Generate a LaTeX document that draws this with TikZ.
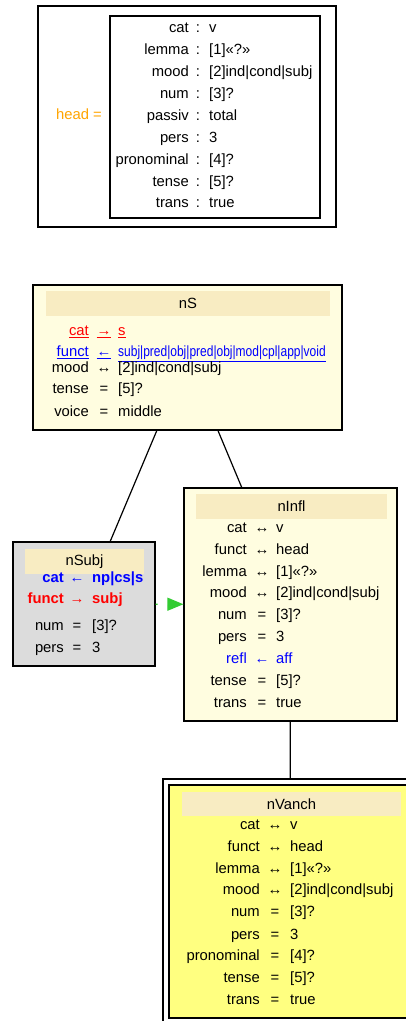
\documentclass[tikz,border=0pt]{standalone}
\usepackage{fontspec}
\setmainfont{Liberation Sans}
\usetikzlibrary{arrows.meta}
\definecolor{cream}{HTML}{FFFDE0}
\definecolor{titlebar}{HTML}{F8ECC2}
\definecolor{greybox}{HTML}{DCDCDC}
\definecolor{vanchyellow}{HTML}{FFFF80}
\definecolor{headorange}{HTML}{FFA500}
\definecolor{linkgreen}{HTML}{33CC33}
\tikzset{
  fbox/.style={draw, line width=1.2pt, inner sep=0pt},
  titlebox/.style={fill=titlebar, inner sep=0pt},
  lbl/.style={anchor=mid east, inner sep=0pt, yshift=-2pt},
  sym/.style={anchor=mid, inner sep=0pt, yshift=-2pt},
  val/.style={anchor=mid west, inner sep=0pt, yshift=-2pt},
  edge/.style={line width=1.2pt}
}
\begin{document}
\begin{tikzpicture}[x=1pt, y=-1pt, font=\fontsize{14.8}{17}\selectfont]
\useasboundingbox[fill=white] (0,0) rectangle (406,1021);
\clip (0,0) rectangle (406,1021);

%head
\node[fbox, minimum width=298, minimum height=221](head_outer) at (187,116.5){};
\node[fbox, minimum width=210, minimum height=202](head_avm) at (215,117){};
\node[text=headorange, anchor=mid, inner sep=0pt, yshift=-2pt](head_lbl) at (79,115){head =};
\foreach \y/\l/\v in {28/cat/v, 50/lemma/[1]«?», 72/mood/[2]ind|cond|subj,
    94/num/[3]?, 116/passiv/total, 138/pers/3, 160/pronominal/[4]?,
    182/tense/[5]?, 203/trans/true}{
  \node[lbl](head_l\y) at (189,\y){\l};
  \node[sym](head_s\y) at (198,\y){:};
  \node[val](head_v\y) at (209,\y){\v};
}

%nS
\node[fbox, fill=cream, minimum width=309, minimum height=145](nS) at (187.5,357.5){};
\node[titlebox, minimum width=284, minimum height=25](nS_title) at (188,303.5){nS};
\foreach \y/\l/\s/\v/\c in {331/\underline{cat}/\underline{→}/\underline{s}/red,
    352/\underline{funct}/\underline{←}/\underline{\scalebox{0.81}[1]{subj|pred|obj|pred|obj|mod|cpl|app|void}}/blue,
    368/mood/↔/[2]ind|cond|subj/black, 389/tense/=/[5]?/black,
    412/voice/=/middle/black}{
  \node[lbl, text=\c](nS_l\y) at (89,\y){\l};
  \node[sym, text=\c](nS_s\y) at (104,\y){\s};
  \node[val, text=\c](nS_v\y) at (118,\y){\v};
}

%nSubj
\node[fbox, fill=greybox, minimum width=142, minimum height=124](nSubj) at (84,604){};
\node[titlebox, minimum width=119, minimum height=25](nSubj_title) at (84.5,561.5){nSubj};
\foreach \y/\l/\s/\v/\c in {578/\textbf{cat}/←/\textbf{np|cs|s}/blue,
    599/\textbf{funct}/→/\textbf{subj}/red,
    626/num/=/[3]?/black, 648/pers/=/3/black}{
  \node[lbl, text=\c](nSubj_l\y) at (64,\y){\l};
  \node[sym, text=\c](nSubj_s\y) at (77,\y){\s};
  \node[val, text=\c](nSubj_v\y) at (92,\y){\v};
}

%nInfl
\node[fbox, fill=cream, minimum width=213, minimum height=233](nInfl) at (290.5,604.5){};
\node[titlebox, minimum width=191, minimum height=25](nInfl_title) at (291.5,506.5){nInfl};
\foreach \y/\l/\s/\v/\c in {528/cat/↔/v/black, 550/funct/↔/head/black,
    572/lemma/↔/[1]«?»/black, 593/mood/↔/[2]ind|cond|subj/black,
    615/num/=/[3]?/black, 637/pers/=/3/black, 659/refl/←/aff/blue,
    681/tense/=/[5]?/black, 703/trans/=/true/black}{
  \node[lbl, text=\c](nInfl_l\y) at (247,\y){\l};
  \node[sym, text=\c](nInfl_s\y) at (262,\y){\s};
  \node[val, text=\c](nInfl_v\y) at (276,\y){\v};
}

%nVanch
\node[fbox, fill=white, minimum width=254, minimum height=245](nVanch) at (290,901.5){};
\node[fbox, fill=vanchyellow, minimum width=242, minimum height=233](nVanch_in) at (290,901.5){};
\node[titlebox, minimum width=219, minimum height=24](nVanch_title) at (291.5,804){nVanch};
\foreach \y/\l/\s/\v in {825/cat/↔/v, 847/funct/↔/head, 869/lemma/↔/[1]«?»,
    890/mood/↔/[2]ind|cond|subj, 912/num/=/[3]?, 935/pers/=/3,
    956/pronominal/=/[4]?, 978/tense/=/[5]?, 1000/trans/=/true}{
  \node[lbl](nVanch_l\y) at (260,\y){\l};
  \node[sym](nVanch_s\y) at (275,\y){\s};
  \node[val](nVanch_v\y) at (290,\y){\v};
}

%edges
\draw[edge] (nS) -- (nSubj);
\draw[edge] (nS) -- (nInfl);
\draw[edge] (nInfl) -- (nVanch);
\draw[edge, linkgreen, dash pattern=on 2pt off 12pt,
    -{Triangle[length=16pt, width=13pt]}] (nSubj) -- (nInfl);
\end{tikzpicture}
\end{document}
